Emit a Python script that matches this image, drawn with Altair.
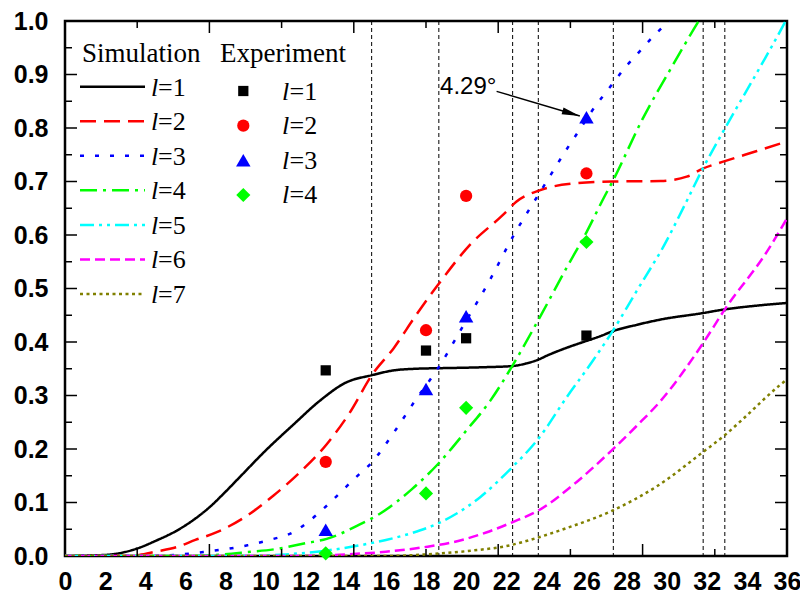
import math
import altair as alt
import pandas as pd

# ---------------- plot geometry ----------------
W, H = 722, 535
X_DOMAIN = [0, 36]
Y_DOMAIN = [0, 1]

# ---------------- data ----------------
series_names = ["l=1", "l=2", "l=3", "l=4", "l=5", "l=6", "l=7"]
series_colors = ["#000000", "#FF0000", "#0000FF", "#00FF00", "#00FFFF", "#FF00FF", "#808000"]
series_dash = [[1, 0], [16, 8], [4, 11], [17, 6, 3, 6], [14, 5, 3, 5, 3, 5], [10, 5], [3, 3.5]]

l1_x = [0, 2, 3.6, 4.5, 5.6, 6.5, 7.2, 8, 8.7, 10, 11.4, 12.7, 14, 15.3, 16.4, 17.5, 18.6, 20, 21, 22.3,
        23, 23.6, 24, 25, 26, 26.7, 27.3, 28.5, 29.7, 31.8, 32.9, 34.5, 36]
l1_y = [0, 0.002, 0.014, 0.028, 0.048, 0.07, 0.091, 0.12, 0.147, 0.197, 0.246, 0.29, 0.324, 0.338, 0.347,
        0.35, 0.351, 0.352, 0.353, 0.355, 0.36, 0.367, 0.374, 0.389, 0.402, 0.411, 0.42, 0.432, 0.442,
        0.454, 0.461, 0.468, 0.473]

l2_x = [0, 3, 3.7, 4.5, 5.6, 6.5, 7.6, 9.1, 10.4, 11.7, 13.05, 14.2, 15.3, 16.4, 17.5, 18.6, 20.2, 21.85,
        22.5, 23.7, 25.3, 27.3, 29.7, 31, 31.8, 32.9, 34.5, 36]
l2_y = [0, 0, 0.002, 0.008, 0.017, 0.03, 0.045, 0.076, 0.113, 0.156, 0.209, 0.268, 0.338, 0.389, 0.45,
        0.507, 0.582, 0.638, 0.662, 0.684, 0.696, 0.7, 0.701, 0.709, 0.724, 0.738, 0.757, 0.775]

l3_x = [0, 4, 5.1, 6.9, 9.1, 10.2, 11.4, 12.2, 13.05, 14.5, 15.3, 16.4, 17.45, 18.6, 19.9, 21.2, 22.35,
        23.35, 23.75, 25.2, 25.7, 26.2, 26.75, 27.35, 27.95, 28.6, 29.3, 30.1, 30.6]
l3_y = [0, 0, 0.001, 0.0075, 0.02, 0.03, 0.045, 0.066, 0.094, 0.147, 0.175, 0.231, 0.29, 0.351, 0.433,
        0.517, 0.598, 0.66, 0.684, 0.771, 0.799, 0.828, 0.856, 0.885, 0.914, 0.941, 0.97, 1.0, 1.02]

l4_x = [0, 6, 7.5, 9, 10.7, 12, 13.05, 14.7, 15.7, 17.3, 18.6, 20, 21.2, 22.3, 23.7, 25, 26, 26.9, 27.3,
        28.8, 30.3, 31.6, 32.1]
l4_y = [0, 0, 0.002, 0.007, 0.014, 0.024, 0.032, 0.059, 0.079, 0.125, 0.172, 0.234, 0.29, 0.355, 0.448,
        0.538, 0.605, 0.672, 0.7, 0.817, 0.917, 1.0, 1.03]

l5_x = [0, 9, 11, 13, 14.7, 16, 17.3, 18.6, 20.7, 22.3, 23.6, 25, 26.3, 27.3, 28.5, 29.3, 29.7, 30.9,
        31.8, 32.9, 34.6, 35.9, 36.2]
l5_y = [0, 0, 0.003, 0.01, 0.02, 0.03, 0.043, 0.061, 0.11, 0.166, 0.219, 0.296, 0.364, 0.42, 0.495,
        0.544, 0.569, 0.656, 0.724, 0.799, 0.91, 0.998, 1.02]

l6_x = [0, 12, 14, 16, 18, 19.7, 21, 22.3, 23.6, 25.5, 27.3, 28.5, 29.7, 31.8, 32.9, 35, 36]
l6_y = [0, 0, 0.003, 0.008, 0.017, 0.029, 0.044, 0.063, 0.085, 0.138, 0.199, 0.243, 0.29, 0.397, 0.461,
        0.569, 0.631]

l7_x = [0, 16, 18, 20, 22.3, 23, 25, 27.3, 29.5, 31.8, 33, 33.8, 35.6, 36]
l7_y = [0, 0, 0.003, 0.009, 0.021, 0.028, 0.052, 0.085, 0.13, 0.194, 0.229, 0.256, 0.318, 0.33]

sim_x = [l1_x, l2_x, l3_x, l4_x, l5_x, l6_x, l7_x]
sim_y = [l1_y, l2_y, l3_y, l4_y, l5_y, l6_y, l7_y]

exp_names = ["l=1", "l=2", "l=3", "l=4"]
exp_x = [13, 18, 20, 26]
exp1_y = [0.347, 0.384, 0.407, 0.412]
exp2_y = [0.176, 0.422, 0.673, 0.715]
exp3_y = [0.049, 0.312, 0.448, 0.82]
exp4_y = [0.005, 0.117, 0.277, 0.587]
exp_y = [exp1_y, exp2_y, exp3_y, exp4_y]
exp_colors = ["#000000", "#FF0000", "#0000FF", "#00FF00"]
exp_shapes = ["square", "circle", "triangle-up", "diamond"]
exp_sizes = [105, 150, 210, 200]

vline_x = [15.29, 18.64, 22.32, 23.6, 27.34, 31.82, 32.9]

x_label_values = list(range(0, 37, 2))
y_label_values = [round(0.1 * i, 1) for i in range(11)]
x_tick_major = [7.2, 14.4, 21.6, 28.8]
x_tick_minor = [3.6, 10.8, 18.0, 25.2, 32.4]
y_tick_major = [round(0.1 * i, 1) for i in range(1, 10)]
y_tick_minor = [round(0.05 + 0.1 * i, 2) for i in range(10)]

annot_label = "4.29°"
annot_xy = [18.7, 0.877]
arrow_start = [21.52, 0.8685]
arrow_tip = [25.67, 0.8225]

# ---------------- scales / axes ----------------
xs = alt.Scale(domain=X_DOMAIN, nice=False, zero=False)
ys = alt.Scale(domain=Y_DOMAIN, nice=False, zero=False)

x_axis = alt.Axis(values=x_label_values, ticks=False, domain=False, grid=False, title=None,
                  labelFont="Liberation Sans", labelFontSize=25, labelFontWeight="bold",
                  labelColor="black", labelPadding=13, labelFlush=False, labelOverlap=False,
                  labelBound=False)
y_axis = alt.Axis(values=y_label_values, format=".1f", ticks=False, domain=False, grid=False,
                  title=None, labelFont="Liberation Sans", labelFontSize=25, labelFontWeight="bold",
                  labelColor="black", labelPadding=17, labelFlush=False, labelOverlap=False,
                  labelBound=False)


def X(field):
    return alt.X(field, scale=xs, axis=x_axis)


def Y(field):
    return alt.Y(field, scale=ys, axis=y_axis)


layers = []

# dashed vertical guide lines
layers.append(
    alt.Chart(pd.DataFrame({"x": vline_x})).mark_rule(color="black", strokeWidth=1, strokeDash=[4, 3])
    .encode(x=X("x:Q"), y=alt.value(0), y2=alt.value(H))
)

# simulation curves
rows = []
for name, xx, yy in zip(series_names, sim_x, sim_y):
    for a, b in zip(xx, yy):
        rows.append({"series": name, "x": a, "y": b})
curves_df = pd.DataFrame(rows)
layers.append(
    alt.Chart(curves_df).mark_line(clip=True, strokeWidth=2.5, interpolate="monotone")
    .encode(
        x=X("x:Q"),
        y=Y("y:Q"),
        color=alt.Color("series:N", scale=alt.Scale(domain=series_names, range=series_colors), legend=None),
        strokeDash=alt.StrokeDash("series:N", scale=alt.Scale(domain=series_names, range=series_dash),
                                  legend=None),
        detail="series:N",
    )
)

# experiment points
for name, yy, col, shp, sz in zip(exp_names, exp_y, exp_colors, exp_shapes, exp_sizes):
    df = pd.DataFrame({"x": exp_x, "y": yy})
    layers.append(
        alt.Chart(df).mark_point(shape=shp, filled=True, color=col, size=sz, opacity=1, strokeWidth=0)
        .encode(x=X("x:Q"), y=Y("y:Q"))
    )

# inward ticks on all four sides
TMAJ, TMIN = 12, 7


def xticks(vals, length):
    df = pd.DataFrame({"v": vals})
    bottom = alt.Chart(df).mark_rule(color="black", strokeWidth=1.5).encode(
        x=X("v:Q"), y=alt.value(H), y2=alt.value(H - length))
    top = alt.Chart(df).mark_rule(color="black", strokeWidth=1.5).encode(
        x=X("v:Q"), y=alt.value(0), y2=alt.value(length))
    return [bottom, top]


def yticks(vals, length):
    df = pd.DataFrame({"v": vals})
    left = alt.Chart(df).mark_rule(color="black", strokeWidth=1.5).encode(
        y=Y("v:Q"), x=alt.value(0), x2=alt.value(length))
    right = alt.Chart(df).mark_rule(color="black", strokeWidth=1.5).encode(
        y=Y("v:Q"), x=alt.value(W), x2=alt.value(W - length))
    return [left, right]


layers += xticks(x_tick_major, TMAJ) + xticks(x_tick_minor, TMIN)
layers += yticks(y_tick_major, TMAJ) + yticks(y_tick_minor, TMIN)

# annotation with arrow
layers.append(
    alt.Chart(pd.DataFrame({"t": [annot_label], "x": [annot_xy[0]], "y": [annot_xy[1]]}))
    .mark_text(font="Liberation Sans", fontSize=24, align="left", baseline="middle", color="black")
    .encode(x=X("x:Q"), y=Y("y:Q"), text="t:N")
)
layers.append(
    alt.Chart(pd.DataFrame({"x": [arrow_start[0]], "y": [arrow_start[1]],
                            "x2": [arrow_tip[0]], "y2": [arrow_tip[1]]}))
    .mark_rule(color="black", strokeWidth=1.5)
    .encode(x=X("x:Q"), y=Y("y:Q"), x2="x2:Q", y2="y2:Q")
)
dx_px = (arrow_tip[0] - arrow_start[0]) * W / (X_DOMAIN[1] - X_DOMAIN[0])
dy_px = (arrow_start[1] - arrow_tip[1]) * H / (Y_DOMAIN[1] - Y_DOMAIN[0])
arrow_angle = math.degrees(math.atan2(dy_px, dx_px)) % 360
layers.append(
    alt.Chart(pd.DataFrame({"x": [arrow_tip[0]], "y": [arrow_tip[1]]}))
    .mark_point(shape="M0,0L-2,-0.38L-2,0.38Z", size=324, angle=arrow_angle, filled=True,
                color="black", opacity=1, strokeWidth=0)
    .encode(x=X("x:Q"), y=Y("y:Q"))
)

# ---------------- custom legend ----------------
SERIF = "Liberation Serif"


def text_item(txt, px, py, size=26, style="normal"):
    return alt.Chart(pd.DataFrame({"t": [txt]})).mark_text(
        font=SERIF, fontSize=size, fontStyle=style, align="left", baseline="middle", color="black"
    ).encode(text="t:N", x=alt.value(px), y=alt.value(py))


layers.append(text_item("Simulation", 17, 33, size=27))
layers.append(text_item("Experiment", 155, 33, size=27))

ROW = 34.55
for i, (name, col, dash) in enumerate(zip(series_names, series_colors, series_dash)):
    ly = 65.7 + ROW * i
    layers.append(
        alt.Chart(pd.DataFrame({"k": [name]})).mark_rule(color=col, strokeWidth=2.5, strokeDash=dash)
        .encode(x=alt.value(15), x2=alt.value(80), y=alt.value(ly))
    )
    layers.append(text_item("l", 86, ly + 1, style="italic"))
    layers.append(text_item(name[1:], 93, ly + 1))

for i, (name, col, shp, sz) in enumerate(zip(exp_names, exp_colors, exp_shapes, exp_sizes)):
    ly = 70 + 34.65 * i
    layers.append(
        alt.Chart(pd.DataFrame({"k": [name]})).mark_point(shape=shp, filled=True, color=col, size=sz,
                                                          opacity=1, strokeWidth=0)
        .encode(x=alt.value(178.3), y=alt.value(ly))
    )
    layers.append(text_item("l", 217, ly + 0.5, style="italic"))
    layers.append(text_item(name[1:], 224.5, ly + 0.5))

chart = alt.layer(*layers).properties(
    width=W, height=H,
    autosize=alt.AutoSizeParams(type="none"),
    padding={"left": 57, "top": 13, "right": 13, "bottom": 45},
    background="white",
).configure_view(stroke="black", strokeWidth=2.5)

chart.save("out.html", embed_options={"renderer": "svg", "actions": False})
